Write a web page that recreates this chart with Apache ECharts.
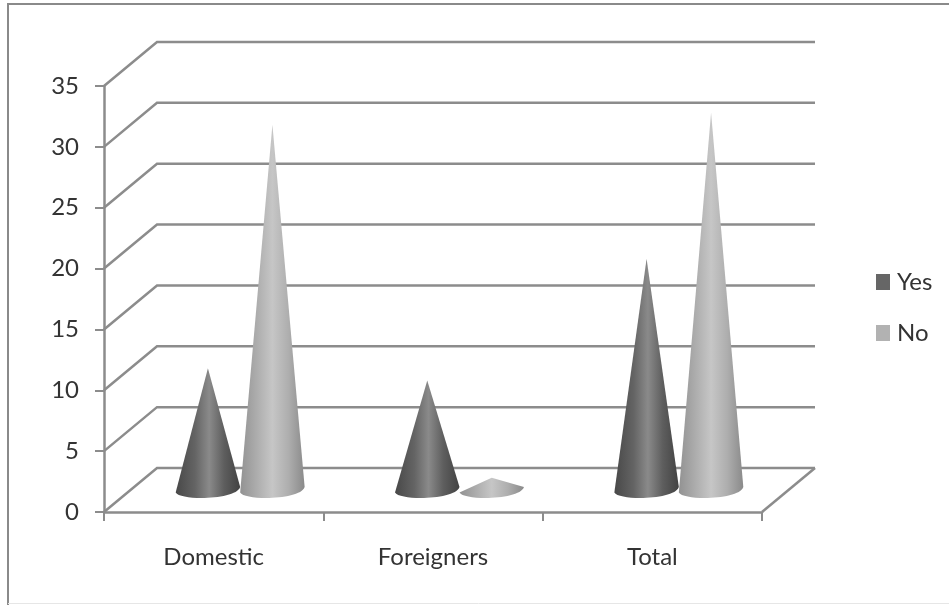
<!DOCTYPE html>
<html>
<head>
<meta charset="utf-8">
<style>
  html, body { margin: 0; padding: 0; background: #fff; }
  /* the source is a soft scan */
  #chart { width: 949px; height: 605px; filter: blur(0.4px); }
</style>
</head>
<body>
<div id="chart"></div>
<script src="https://cdn.jsdelivr.net/npm/echarts@6/dist/echarts.min.js"></script>
<script>
const categories = ['Domestic', 'Foreigners', 'Total']
const yesValues = [10, 9, 19]
const noValues = [30, 1, 31]
const wallTicks = [0, 5, 10, 15, 20, 25, 30, 35]

const lineColor = '#8c8c8c'
const textColor = '#333333'
const fontFamily = 'Lato, "Open Sans", sans-serif'

// fake 3D depth of the floor, in pixels
const depthX = 53
const depthY = 44

const chart = echarts.init(document.getElementById('chart'))

const renderWall = (params, api) => {
  const cs = params.coordSys
  const y = api.coord([0, api.value(0)])[1]
  const left = cs.x
  const children = [{
    type: 'polyline',
    shape: { points: [[left, y], [left + depthX, y - depthY], [left + cs.width + depthX, y - depthY]] },
    style: { stroke: lineColor, lineWidth: 2.5, fill: null }
  }]
  // right edge of the floor
  if (api.value(0) === 0) {
    children.push({
      type: 'line',
      shape: { x1: left + cs.width, y1: y, x2: left + cs.width + depthX, y2: y - depthY },
      style: { stroke: lineColor, lineWidth: 2.5 }
    })
  }
  return { type: 'group', children }
}

const makeCone = (side, stops) => (params, api) => {
  const band = api.size([1, 0])[0]
  const halfWidth = band * 0.147
  const base = api.coord([api.value(0), 0])
  const top = api.coord([api.value(0), api.value(1)])
  const cx = base[0] + depthX / 2 + side * halfWidth
  const baseY = base[1] - depthY / 2
  const apexY = top[1] - depthY / 2
  const leftY = baseY + 2.5
  const rightY = baseY - 3
  const path =
    `M ${cx} ${apexY} L ${cx + halfWidth} ${rightY} ` +
    `C ${cx + halfWidth * 0.88} ${baseY + 10} ${cx - halfWidth * 0.85} ${baseY + 11} ${cx - halfWidth} ${leftY} Z`
  return {
    type: 'path',
    shape: { pathData: path },
    style: {
      fill: new echarts.graphic.LinearGradient(0, 0, 1, 0, stops)
    }
  }
}

const darkStops = [
  { offset: 0, color: '#484848' },
  { offset: 0.3, color: '#646464' },
  { offset: 0.52, color: '#8a8a8a' },
  { offset: 0.75, color: '#5e5e5e' },
  { offset: 1, color: '#424242' }
]
const lightStops = [
  { offset: 0, color: '#929292' },
  { offset: 0.25, color: '#acacac' },
  { offset: 0.5, color: '#c6c6c6' },
  { offset: 0.75, color: '#aeaeae' },
  { offset: 1, color: '#8a8a8a' }
]

const option = {
  backgroundColor: '#fff',
  animation: false,
  grid: { left: 104, right: 187, top: 86, bottom: 93 },
  legend: {
    data: ['Yes', 'No'],
    orient: 'vertical',
    left: 871,
    top: 265,
    itemWidth: 14,
    itemHeight: 16,
    itemGap: 27,
    icon: 'rect',
    textStyle: { color: textColor, fontSize: 24, fontFamily, padding: [0, 0, 0, 2] }
  },
  xAxis: {
    type: 'category',
    data: categories,
    axisLine: { lineStyle: { color: lineColor, width: 2.5 } },
    axisTick: { show: true, length: 9, alignWithLabel: false, lineStyle: { color: lineColor, width: 2 } },
    axisLabel: { color: textColor, fontSize: 24, fontFamily, margin: 33 }
  },
  yAxis: {
    type: 'value',
    min: 0,
    max: 35,
    interval: 5,
    axisLine: { show: true, lineStyle: { color: lineColor, width: 2.5 } },
    axisTick: { show: true, length: 9, lineStyle: { color: lineColor, width: 2 } },
    axisLabel: { color: textColor, fontSize: 24, fontFamily, margin: 25 },
    splitLine: { show: false }
  },
  series: [
    {
      name: 'wall',
      type: 'custom',
      renderItem: renderWall,
      data: wallTicks,
      encode: { y: 0 },
      clip: false,
      silent: true,
      z: 1
    },
    {
      name: 'Yes',
      type: 'custom',
      renderItem: makeCone(-1, darkStops),
      data: yesValues.map((v, i) => [i, v]),
      encode: { x: 0, y: 1 },
      itemStyle: { color: '#666666' },
      clip: false,
      z: 3
    },
    {
      name: 'No',
      type: 'custom',
      renderItem: makeCone(1, lightStops),
      data: noValues.map((v, i) => [i, v]),
      encode: { x: 0, y: 1 },
      itemStyle: { color: '#b2b2b2' },
      clip: false,
      z: 4
    }
  ],
  graphic: [
    // outer frame of the picture, cropped on the right
    {
      type: 'polyline',
      silent: true,
      shape: { points: [[8, 605], [8, 4], [949, 4]] },
      style: { stroke: '#8a8a8a', lineWidth: 2, fill: null }
    },
    {
      type: 'line',
      silent: true,
      shape: { x1: 8, y1: 603.5, x2: 949, y2: 603.5 },
      style: { stroke: '#e6e6e6', lineWidth: 1 }
    }
  ]
}

chart.setOption(option)
</script>
</body>
</html>
